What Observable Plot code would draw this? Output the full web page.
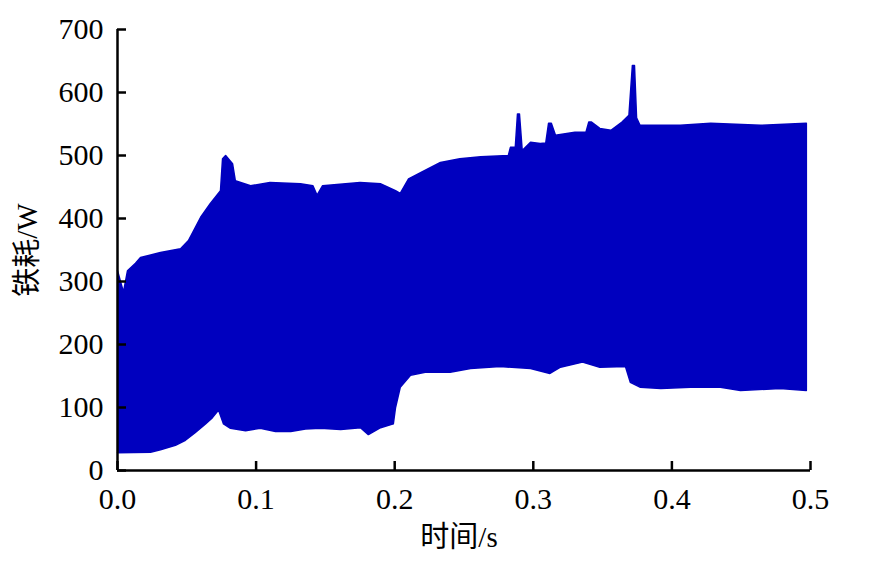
<!DOCTYPE html>
<html>
<head>
<meta charset="utf-8">
<script src="https://cdn.jsdelivr.net/npm/d3@7"></script>
<script src="https://cdn.jsdelivr.net/npm/@observablehq/plot@0.6"></script>
<style>
  html, body { margin: 0; padding: 0; background: #fff; }
</style>
</head>
<body>
<div id="chart"></div>
<script>
// Upper envelope of the iron-loss signal: time (s) and value (W)
const upperT = [0.000, 0.0043, 0.0072, 0.013, 0.0166, 0.031, 0.0455, 0.0512, 0.060, 0.067, 0.0743, 0.0758, 0.078, 0.083, 0.085, 0.096, 0.110, 0.132, 0.141, 0.144, 0.148, 0.175, 0.190, 0.2006, 0.204, 0.210, 0.219, 0.233, 0.247, 0.262, 0.282, 0.2835, 0.287, 0.2886, 0.290, 0.292, 0.298, 0.305, 0.309, 0.311, 0.313, 0.316, 0.330, 0.338, 0.340, 0.342, 0.348, 0.356, 0.364, 0.369, 0.3715, 0.373, 0.3745, 0.377, 0.406, 0.428, 0.464, 0.497];
const upperW = [317, 283, 317, 329, 338, 346, 352, 365, 402, 424, 444, 495, 500, 487, 460, 452, 457, 455, 452, 437, 452, 457, 455, 444, 440, 463, 473, 489, 495, 498, 500, 513, 513, 566, 566, 508, 521, 519, 520, 551, 551, 532, 537, 537, 553, 553, 543, 540, 553, 564, 643, 643, 560, 548, 548, 551, 548, 551];

// Lower envelope of the iron-loss signal: time (s) and value (W)
const lowerT = [0.000, 0.0238, 0.031, 0.0418, 0.049, 0.056, 0.0635, 0.0685, 0.0729, 0.0765, 0.0815, 0.0924, 0.103, 0.114, 0.125, 0.1356, 0.1465, 0.161, 0.1753, 0.181, 0.1898, 0.199, 0.2006, 0.204, 0.2114, 0.222, 0.240, 0.2547, 0.276, 0.298, 0.312, 0.3196, 0.3355, 0.348, 0.3665, 0.370, 0.3773, 0.392, 0.4134, 0.435, 0.4495, 0.478, 0.497];
const lowerW = [28, 29, 33, 40, 48, 60, 74, 84, 96, 74, 67, 63, 67, 62, 62, 66, 67, 65, 68, 57, 68, 74, 100, 132, 151, 156, 156, 162, 165, 162, 154, 164, 172, 164, 165, 140, 132, 130, 132, 132, 127, 130, 127];

// Axis ticks and labels
const xTicks = [0, 0.1, 0.2, 0.3, 0.4, 0.5];
const yTicks = [0, 100, 200, 300, 400, 500, 600, 700];
const xLabel = "时间/s";
const yLabel = "铁耗/W";

// Closed polygon: upper edge left→right, then lower edge right→left
const band = upperT.map((t, i) => ({t, w: upperW[i]}))
  .concat(lowerT.map((t, i) => ({t, w: lowerW[i]})).reverse());

const chart = Plot.plot({
  width: 890,
  height: 565,
  marginLeft: 117,
  marginRight: 80,
  marginTop: 29,
  marginBottom: 95,
  style: {
    fontFamily: "'Liberation Serif', 'Times New Roman', 'Noto Sans CJK SC', serif",
    fontSize: "30px",
    color: "#000",
    background: "#fff"
  },
  x: {domain: [0, 0.5]},
  y: {domain: [0, 700]},
  marks: [
    Plot.line(band, {x: "t", y: "w", fill: "#0000bf", stroke: "#0000bf", strokeWidth: 1.5, strokeLinejoin: "round", curve: "linear"}),
    Plot.axisX({ticks: xTicks, tickFormat: d3.format(".1f"), tickSize: -9, tickPadding: 26, strokeWidth: 2.5, label: null, fontSize: 30}),
    Plot.axisY({ticks: yTicks, tickFormat: d3.format("d"), tickSize: -9, tickPadding: 23, strokeWidth: 2.5, label: null, fontSize: 30}),
    Plot.ruleX([0], {stroke: "#000", strokeWidth: 2.5}),
    Plot.ruleY([0], {stroke: "#000", strokeWidth: 2.5}),
    Plot.text([xLabel], {frameAnchor: "bottom", textAnchor: "middle", lineAnchor: "middle", dx: -5, dy: 67, fontSize: 29, fill: "#000"}),
    Plot.text([yLabel], {frameAnchor: "left", textAnchor: "middle", lineAnchor: "middle", dx: -90, rotate: -90, fontSize: 29, fill: "#000"})
  ]
});
document.getElementById("chart").appendChild(chart);
</script>
</body>
</html>
